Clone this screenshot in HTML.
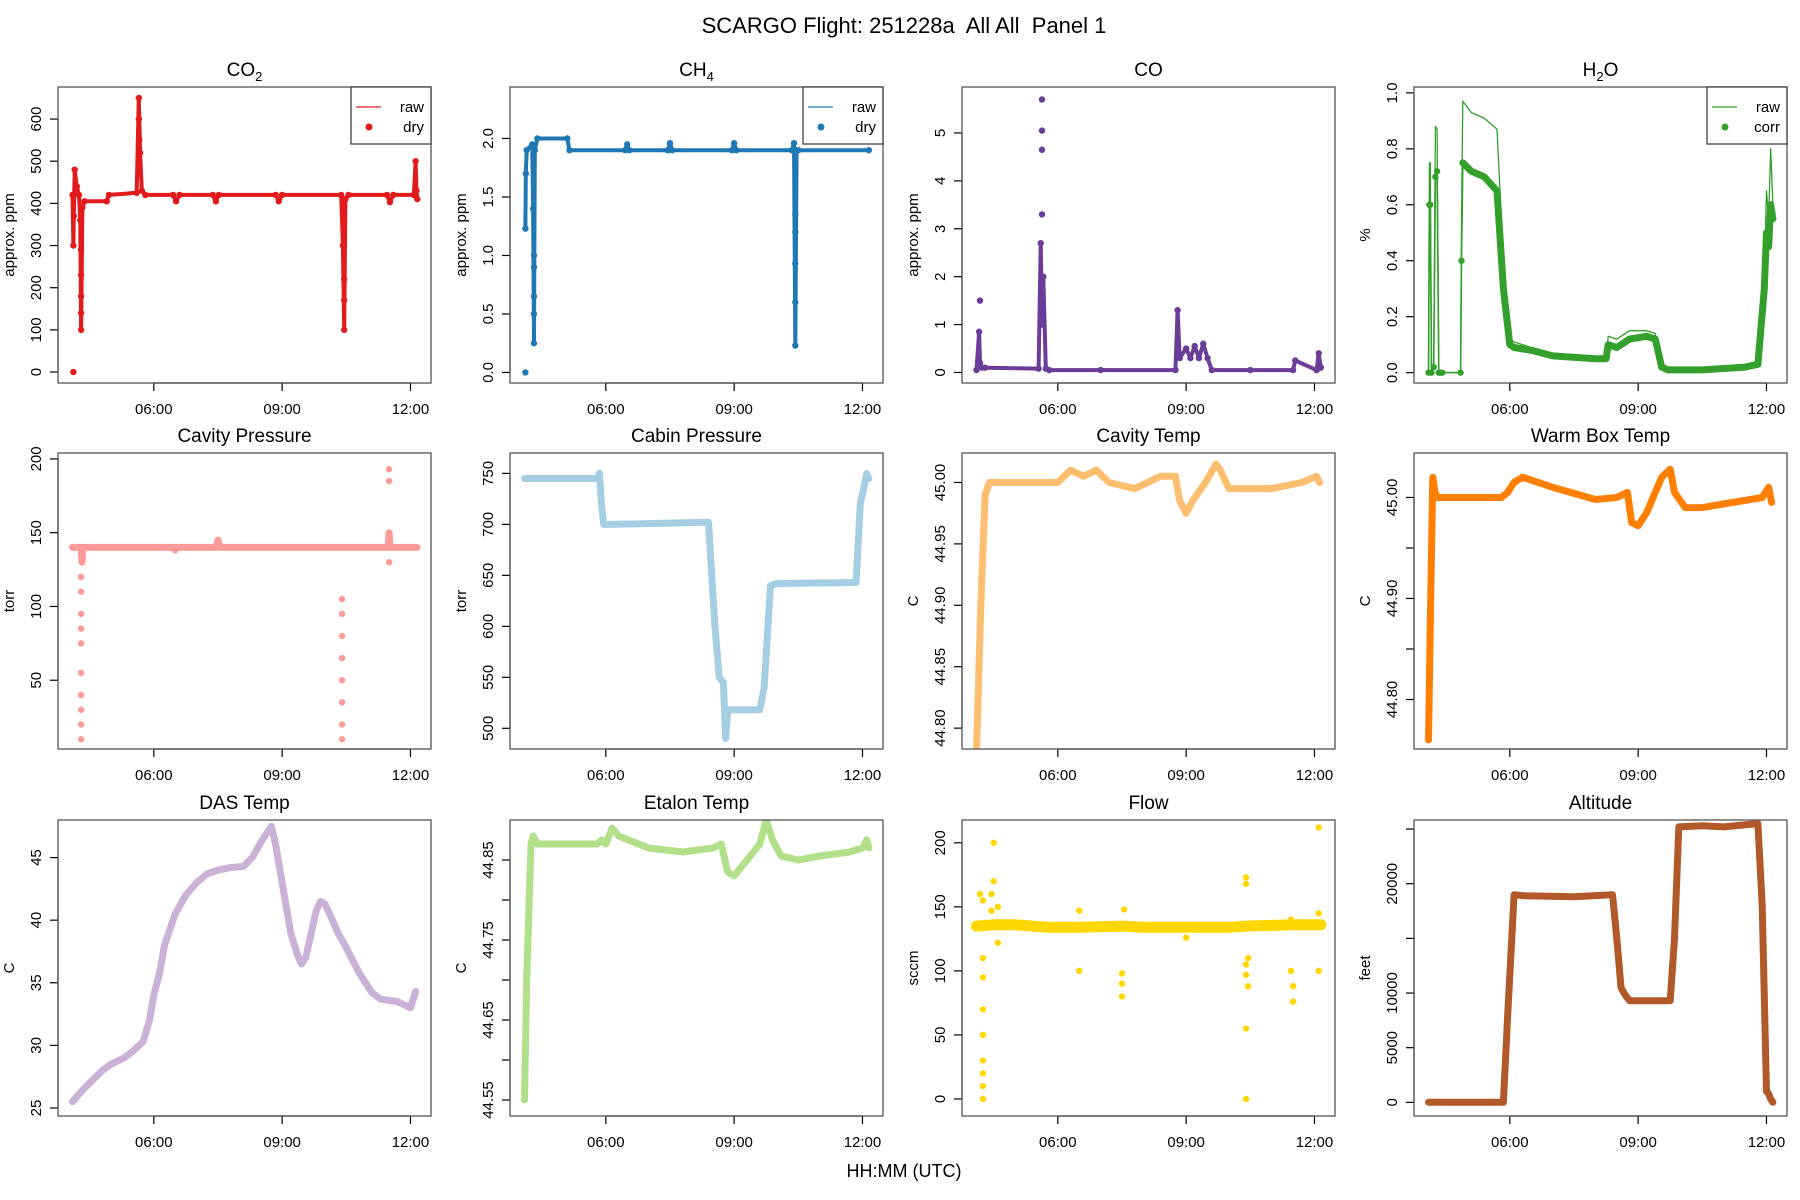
<!DOCTYPE html>
<html><head><meta charset="utf-8">
<style>
html,body{margin:0;padding:0;background:#fff;}
svg{display:block;font-family:"Liberation Sans",Arial,sans-serif;}
</style></head>
<body>
<svg id="chart" width="1800" height="1200" viewBox="0 0 1800 1200" xmlns="http://www.w3.org/2000/svg">
<rect width="1800" height="1200" fill="#fff"/>
<text x="904" y="33" font-size="22" text-anchor="middle" style="white-space:pre" xml:space="preserve">SCARGO Flight: 251228a  All All  Panel 1</text>
<text x="904" y="1177" font-size="18" text-anchor="middle">HH:MM (UTC)</text>
</svg>
<script>
// ---- data arrays (time in hours UTC) ----
const co2T=[4.10,4.12,4.13,4.15,4.20,4.25,4.28,4.30,4.33,4.38,4.90,4.95,5.60,5.65,5.68,5.72,5.80,6.45,6.52,6.60,7.38,7.45,7.52,8.85,8.92,9.00,10.38,10.42,10.45,10.48,10.55,11.45,11.52,11.60,12.08,12.12,12.14,12.16];
const co2V=[420,300,370,480,440,420,360,100,390,405,405,420,425,650,520,430,420,420,405,420,420,405,420,420,405,420,420,300,100,410,420,420,403,420,420,500,430,410];
const co2Extra=[[4.12,0],[4.30,230],[4.30,180],[4.30,140],[4.30,290],[10.45,170],[10.45,220],[10.45,360],[5.65,600],[5.66,550]];
const ch4T=[4.12,4.13,4.15,4.28,4.30,4.32,4.34,4.40,5.10,5.15,6.45,6.5,6.55,7.45,7.5,7.55,8.95,9.0,9.05,10.35,10.40,10.43,10.46,10.5,12.15];
const ch4V=[1.23,1.70,1.90,1.95,1.40,0.25,1.90,2.00,2.00,1.90,1.90,1.95,1.90,1.90,1.96,1.90,1.90,1.96,1.90,1.90,1.96,0.23,1.90,1.90,1.90];
const ch4Extra=[[4.12,0],[4.32,0.5],[4.32,0.9],[4.32,1.0],[4.32,0.65],[10.43,0.6],[10.43,1.2],[10.43,0.93],[10.43,1.35]];
const coT=[4.10,4.16,4.18,4.22,4.3,5.55,5.60,5.63,5.66,5.72,5.8,7.0,8.75,8.80,8.85,9.0,9.1,9.2,9.3,9.4,9.5,9.6,10.5,11.5,11.55,12.05,12.10,12.15];
const coV=[0.05,0.85,0.2,0.1,0.1,0.08,2.7,1.0,2.0,0.08,0.05,0.05,0.05,1.3,0.3,0.5,0.3,0.55,0.3,0.6,0.3,0.05,0.05,0.05,0.25,0.05,0.4,0.1];
const coExtra=[[4.18,1.5],[5.63,5.7],[5.63,5.05],[5.63,4.65],[5.63,3.3]];
const h2oT=[4.10,4.12,4.14,4.17,4.22,4.26,4.30,4.34,4.38,4.42,4.85,4.87,4.90,5.10,5.40,5.70,5.85,6.00,6.10,6.5,7.0,8.0,8.25,8.30,8.5,8.8,9.2,9.4,9.55,9.7,10.5,11.5,11.8,11.95,12.0,12.05,12.1,12.15];
const h2oCorr=[0.0,0.60,0.60,0.0,0.02,0.70,0.72,0.0,0.0,0.0,0.0,0.40,0.75,0.72,0.70,0.65,0.30,0.10,0.09,0.08,0.06,0.05,0.05,0.10,0.09,0.12,0.13,0.12,0.02,0.01,0.01,0.02,0.03,0.30,0.50,0.45,0.60,0.55];
const h2oRaw=[0.0,0.75,0.75,0.0,0.02,0.88,0.87,0.0,0.0,0.0,0.0,0.55,0.97,0.93,0.91,0.87,0.40,0.12,0.11,0.09,0.07,0.05,0.05,0.13,0.12,0.15,0.15,0.14,0.02,0.01,0.01,0.02,0.03,0.35,0.65,0.55,0.80,0.60];
const cpT=[4.10,4.30,4.32,4.34,7.45,7.5,7.55,10.40,11.48,11.5,11.52,12.15];
const cpV=[140,140,130,140,140,145,140,140,140,150,140,140];
const cpExtra=[[4.3,10],[4.3,20],[4.3,30],[4.3,40],[4.3,55],[4.3,75],[4.3,85],[4.3,95],[4.3,110],[4.3,120],[10.4,10],[10.4,20],[10.4,35],[10.4,50],[10.4,65],[10.4,80],[10.4,95],[10.4,105],[11.5,193],[11.5,185],[11.5,130],[6.5,138]];
const cabT=[4.10,5.80,5.85,5.90,5.95,6.05,8.40,8.55,8.65,8.75,8.80,8.85,9.60,9.70,9.85,10.0,11.85,11.95,12.05,12.10,12.15];
const cabV=[745,745,750,720,700,700,702,600,550,545,490,518,518,540,640,642,643,720,740,750,745];
const ctT=[4.10,4.20,4.30,4.40,6.0,6.3,6.6,6.9,7.2,7.8,8.4,8.75,8.85,9.0,9.15,9.45,9.7,9.8,10.0,10.4,11.0,11.7,12.05,12.12];
const ctV=[44.78,44.90,44.99,45.0,45.0,45.01,45.005,45.01,45.0,44.995,45.005,45.005,44.985,44.975,44.985,45.0,45.015,45.01,44.995,44.995,44.995,45.0,45.005,45.0];
const wbT=[4.10,4.15,4.20,4.25,4.30,5.8,5.95,6.10,6.3,7.0,8.0,8.5,8.75,8.85,9.0,9.2,9.55,9.75,9.85,10.1,10.5,11.2,11.9,12.05,12.12];
const wbV=[44.76,44.90,45.02,45.005,45.0,45.0,45.005,45.015,45.02,45.01,44.998,45.0,45.005,44.975,44.972,44.985,45.02,45.028,45.005,44.99,44.99,44.995,45.0,45.01,44.995];
const dasT=[4.10,4.3,4.5,4.8,5.0,5.3,5.5,5.75,5.9,6.0,6.15,6.25,6.4,6.5,6.75,7.0,7.25,7.5,7.8,8.1,8.3,8.5,8.65,8.75,8.85,9.0,9.2,9.35,9.45,9.55,9.65,9.8,9.9,10.0,10.15,10.3,10.5,10.8,11.1,11.3,11.7,12.0,12.12];
const dasV=[25.5,26.3,27,28,28.5,29,29.5,30.3,32,34,36,38,39.5,40.5,42,43,43.7,44,44.2,44.3,45,46.2,47,47.5,46,43,39,37.3,36.5,37,38.5,40.8,41.5,41.3,40.2,39,37.8,35.8,34.2,33.7,33.5,33,34.3];
const etT=[4.10,4.15,4.25,4.30,4.40,5.8,5.9,6.0,6.15,6.3,7.0,7.8,8.5,8.7,8.85,9.0,9.3,9.6,9.75,9.9,10.1,10.5,11.0,11.7,12.0,12.1,12.15];
const etV=[44.55,44.70,44.87,44.88,44.87,44.87,44.875,44.87,44.89,44.88,44.865,44.86,44.865,44.87,44.835,44.83,44.85,44.87,44.90,44.875,44.855,44.85,44.855,44.86,44.865,44.875,44.865];
const flowT=[4.10,4.5,5.0,5.8,6.5,7.5,8.0,9.0,10.0,10.4,11.5,12.15];
const flowV=[135,136,136,134,134,135,134,134,134,135,136,136];
const flowExtra=[[4.18,160],[4.25,155],[4.25,110],[4.25,95],[4.25,70],[4.25,30],[4.25,20],[4.25,10],[4.25,0],[4.25,50],[4.5,200],[4.5,170],[4.45,160],[4.45,147],[4.6,150],[4.6,122],[6.5,147],[6.5,100],[7.5,98],[7.5,90],[7.5,80],[7.55,148],[9.0,126],[10.4,173],[10.4,168],[10.4,105],[10.4,97],[10.4,55],[10.4,0],[10.45,88],[10.45,110],[11.45,100],[11.5,88],[11.5,76],[11.45,140],[12.1,212],[12.1,145],[12.1,100]];
const altT=[4.10,5.85,5.95,6.10,6.3,7.5,8.4,8.5,8.6,8.7,8.8,9.0,9.75,9.85,9.95,10.5,11.0,11.8,11.9,12.0,12.05,12.1,12.15];
const altV=[0,0,8000,19000,18900,18800,19000,15000,10500,9800,9300,9300,9300,15000,25200,25300,25200,25500,18000,1000,800,300,0];
const timeTicks=[6,9,12];
const timeLabels=["06:00","09:00","12:00"];

// ---- layout ----
const SVGNS="http://www.w3.org/2000/svg";
const svg=document.getElementById('chart');
const XLIM=[3.76,12.48];
const colX=[58,510,962,1414], rowY=[87,453,820], BW=373, BH=296;
function mk(tag,attrs,parent){const e=document.createElementNS(SVGNS,tag);for(const k in attrs)e.setAttribute(k,attrs[k]);(parent||svg).appendChild(e);return e;}

function panel(o){
  const x0=colX[o.c], y0=rowY[o.r];
  const g=mk('g',{});
  
  
  const sx=t=>x0+(t-XLIM[0])/(XLIM[1]-XLIM[0])*BW;
  const sy=v=>y0+BH-(v-o.ylim[0])/(o.ylim[1]-o.ylim[0])*BH;
  const tt=mk('text',{x:x0+BW/2,y:y0-11,'font-size':19,'text-anchor':'middle'},g);
  
  
  if(o.sub){tt.textContent=o.title[0];const ts=mk('tspan',{'font-size':13,dy:5},tt);ts.textContent=o.sub;const t3=mk('tspan',{dy:-5},tt);t3.textContent=o.title[1]||'';}
  else tt.textContent=o.title;
  const xa=mk('g',{},g);
  
  
  mk('line',{x1:sx(timeTicks[0]),x2:sx(timeTicks[timeTicks.length-1]),y1:y0+BH,y2:y0+BH,stroke:'#000','stroke-width':1.2},xa);
  timeTicks.forEach((t,i)=>{
    mk('line',{x1:sx(t),x2:sx(t),y1:y0+BH,y2:y0+BH+8,stroke:'#000','stroke-width':1.2},xa);
    const l=mk('text',{x:sx(t),y:y0+BH+31,'font-size':15,'text-anchor':'middle'},xa);
    
    
    l.textContent=timeLabels[i];
  });
  const ya=mk('g',{},g);
  
  
  const tk=o.ticks;
  mk('line',{x1:x0,x2:x0,y1:sy(tk[0]),y2:sy(tk[tk.length-1]),stroke:'#000','stroke-width':1.2},ya);
  tk.forEach((v,i)=>{
    mk('line',{x1:x0-8,x2:x0,y1:sy(v),y2:sy(v),stroke:'#000','stroke-width':1.2},ya);
    const lab=o.labels[i];
    if(lab){
      const l=mk('text',{x:x0-17,y:sy(v),'font-size':15,'text-anchor':'middle',transform:`rotate(-90 ${x0-17} ${sy(v)})`},ya);
      
      
      l.textContent=lab;
    }
  });
  const yl=mk('text',{x:x0-44,y:y0+BH/2,'font-size':15,'text-anchor':'middle',transform:`rotate(-90 ${x0-44} ${y0+BH/2})`},g);
  
  
  yl.textContent=o.ylab;
  const cid='clip'+o.name;
  const cp=mk('clipPath',{id:cid},g);mk('rect',{x:x0,y:y0,width:BW,height:BH},cp);
  const pg=mk('g',{'clip-path':`url(#${cid})`},g);
  (o.series||[]).forEach(s=>{
    const st=s.from?s.t.slice(s.from):s.t, sv=s.from?s.v.slice(s.from):s.v;
    const pts=st.map((t,i)=>sx(t).toFixed(1)+','+sy(sv[i]).toFixed(1)).join(' ');
    const pl=mk('polyline',{points:pts,fill:'none',stroke:s.color,'stroke-width':s.w,'stroke-linejoin':'round','stroke-linecap':'round',opacity:s.op||1},pg);
    
    
    if(s.dots){st.forEach((t,i)=>{const c=mk('circle',{cx:sx(t),cy:sy(sv[i]),r:3.2,fill:s.color},pg);
      
      });}
  });
  (o.extra||[]).forEach(p=>{const c=mk('circle',{cx:sx(p[0]),cy:sy(p[1]),r:3.2,fill:o.ecolor},pg);
    
    });
  const bx=mk('rect',{x:x0,y:y0,width:BW,height:BH,fill:'none',stroke:'#555','stroke-width':1.3},g);
  
  
  if(o.legend){
    const lg=mk('g',{},g);
    
    
    const lx=x0+BW-80, ly=y0;
    mk('rect',{x:lx,y:ly,width:80,height:57,fill:'#fff',stroke:'#333','stroke-width':1.2},lg);
    mk('line',{x1:lx+5,x2:lx+30,y1:ly+20,y2:ly+20,stroke:o.ecolor,'stroke-width':1.2},lg);
    mk('circle',{cx:lx+18,cy:ly+40,r:3.5,fill:o.ecolor},lg);
    const a=mk('text',{x:lx+73,y:ly+25,'font-size':15,'text-anchor':'end'},lg);a.textContent=o.legend[0];
    
    
    const b=mk('text',{x:lx+73,y:ly+45,'font-size':15,'text-anchor':'end'},lg);b.textContent=o.legend[1];
    
    
  }
}
const R='#e31a1c',B='#1f78b4',P='#6a3d9a',G='#33a02c';
panel({name:'co2',c:0,r:0,title:['CO','' ],sub:'2',ylab:'approx. ppm',ylim:[-26,676],ticks:[0,100,200,300,400,500,600],labels:['0','100','200','300','400','500','600'],
  series:[{name:'co2-raw-line',t:co2T,v:co2V,color:R,w:4,dots:true}],extra:co2Extra,ecolor:R,legend:['raw','dry']});
panel({name:'ch4',c:1,r:0,title:['CH',''],sub:'4',ylab:'approx. ppm',ylim:[-0.09,2.44],ticks:[0,0.5,1,1.5,2],labels:['0.0','0.5','1.0','1.5','2.0'],
  series:[{name:'ch4-raw-line',t:ch4T,v:ch4V,color:B,w:4,dots:true}],extra:ch4Extra,ecolor:B,legend:['raw','dry']});
panel({name:'co',c:2,r:0,title:'CO',ylab:'approx. ppm',ylim:[-0.22,5.96],ticks:[0,1,2,3,4,5],labels:['0','1','2','3','4','5'],
  series:[{name:'co-line',t:coT,v:coV,color:P,w:4,dots:true}],extra:coExtra,ecolor:P});
panel({name:'h2o',c:3,r:0,title:['H','O'],sub:'2',ylab:'%',ylim:[-0.037,1.021],ticks:[0,0.2,0.4,0.6,0.8,1],labels:['0.0','0.2','0.4','0.6','0.8','1.0'],
  series:[{name:'h2o-raw-line',t:h2oT,v:h2oRaw,color:G,w:1.3},{name:'h2o-corr-line',t:h2oT,v:h2oCorr,color:G,w:1.6,dots:true},{name:'h2o-corr-band',t:h2oT,v:h2oCorr,color:G,w:7,from:12}],ecolor:G,legend:['raw','corr']});
panel({name:'cavity-pressure',c:0,r:1,title:'Cavity Pressure',ylab:'torr',ylim:[3.4,204],ticks:[50,100,150,200],labels:['50','100','150','200'],
  series:[{name:'cavity-pressure-line',t:cpT,v:cpV,color:'#fb9a99',w:7}],extra:cpExtra,ecolor:'#fb9a99'});
panel({name:'cabin-pressure',c:1,r:1,title:'Cabin Pressure',ylab:'torr',ylim:[479.7,770],ticks:[500,550,600,650,700,750],labels:['500','550','600','650','700','750'],
  series:[{name:'cabin-pressure-line',t:cabT,v:cabV,color:'#a6cee3',w:7}]});
panel({name:'cavity-temp',c:2,r:1,title:'Cavity Temp',ylab:'C',ylim:[44.783,45.024],ticks:[44.8,44.85,44.9,44.95,45.0],labels:['44.80','44.85','44.90','44.95','45.00'],
  series:[{name:'cavity-temp-line',t:ctT,v:ctV,color:'#fdbf6f',w:7}]});
panel({name:'warm-box-temp',c:3,r:1,title:'Warm Box Temp',ylab:'C',ylim:[44.751,45.044],ticks:[44.8,44.85,44.9,44.95,45.0],labels:['44.80','','44.90','','45.00'],
  series:[{name:'warm-box-temp-line',t:wbT,v:wbV,color:'#ff7f00',w:7}]});
panel({name:'das-temp',c:0,r:2,title:'DAS Temp',ylab:'C',ylim:[24.36,48],ticks:[25,30,35,40,45],labels:['25','30','35','40','45'],
  series:[{name:'das-temp-line',t:dasT,v:dasV,color:'#cab2d6',w:7}]});
panel({name:'etalon-temp',c:1,r:2,title:'Etalon Temp',ylab:'C',ylim:[44.53,44.90],ticks:[44.55,44.6,44.65,44.7,44.75,44.8,44.85],labels:['44.55','','44.65','','44.75','','44.85'],
  series:[{name:'etalon-temp-line',t:etT,v:etV,color:'#b2df8a',w:7}]});
panel({name:'flow',c:2,r:2,title:'Flow',ylab:'sccm',ylim:[-13.3,217.8],ticks:[0,50,100,150,200],labels:['0','50','100','150','200'],
  series:[{name:'flow-line',t:flowT,v:flowV,color:'#ffd700',w:11}],extra:flowExtra,ecolor:'#ffd700'});
panel({name:'altitude',c:3,r:2,title:'Altitude',ylab:'feet',ylim:[-1250,25830],ticks:[0,5000,10000,15000,20000,25000],labels:['0','5000','10000','','20000',''],
  series:[{name:'altitude-line',t:altT,v:altV,color:'#b15928',w:7}]});
</script>
</body></html>
